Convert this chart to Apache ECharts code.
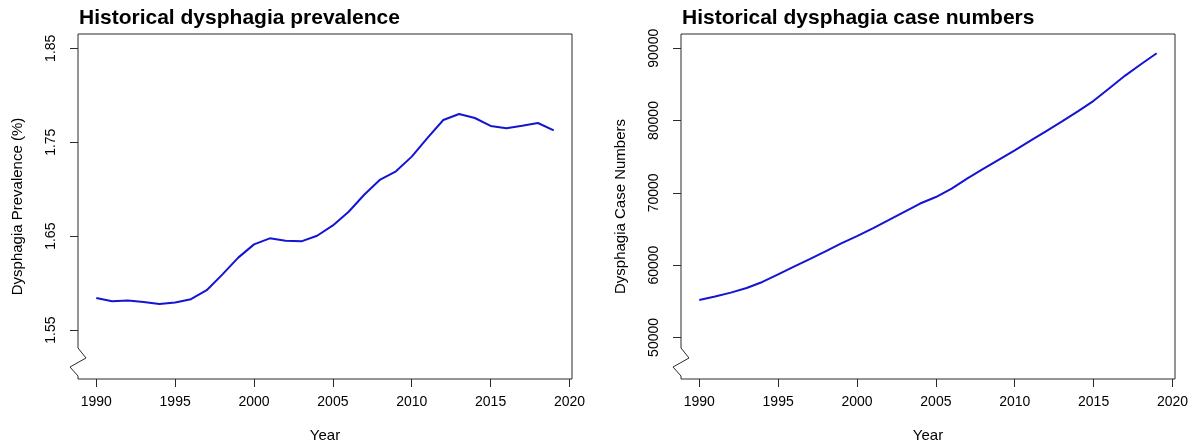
<!DOCTYPE html>
<html>
<head>
<meta charset="utf-8">
<script src="https://cdn.jsdelivr.net/npm/echarts@6/dist/echarts.min.js"></script>
<style>
  html, body { margin: 0; padding: 0; background: #ffffff; }
  #chart { width: 1197px; height: 448px; }
</style>
</head>
<body>
<div id="chart"></div>
<script>
// Yearly series, 1990-2019
const years = [1990, 1991, 1992, 1993, 1994, 1995, 1996, 1997, 1998, 1999,
               2000, 2001, 2002, 2003, 2004, 2005, 2006, 2007, 2008, 2009,
               2010, 2011, 2012, 2013, 2014, 2015, 2016, 2017, 2018, 2019];

// Prevalence of dysphagia (%)
const prevalence = [1.5843, 1.5808, 1.5815, 1.5800, 1.5779, 1.5794, 1.5829, 1.5925, 1.6094, 1.6272,
                    1.6413, 1.6477, 1.6452, 1.6445, 1.6505, 1.6615, 1.6760, 1.6944, 1.7103, 1.7191,
                    1.7347, 1.7546, 1.7737, 1.7800, 1.7758, 1.7673, 1.7648, 1.7676, 1.7705, 1.7626];

// Number of dysphagia cases
const caseNumbers = [55190, 55650, 56200, 56840, 57670, 58730, 59790, 60840, 61900, 63000,
                     64010, 65080, 66220, 67380, 68520, 69420, 70590, 72010, 73300, 74590,
                     75880, 77210, 78550, 79880, 81260, 82730, 84480, 86220, 87790, 89310];

// Tick positions
const yearTicks = [1990, 1995, 2000, 2005, 2010, 2015, 2020];
const prevalenceTicks = [1.55, 1.65, 1.75, 1.85];
const caseTicks = [50000, 60000, 70000, 80000, 90000];

const FONT = "'Liberation Sans', Arial, Helvetica, sans-serif";
const INK = '#000000';
const FRAME = '#2b2b2b';
const LINE_BLUE = '#1414d2';

// Panel geometry (shared by both panels)
const PANEL = { top: 34, height: 346, width: 494 };
const LEFTS = [78, 681];

function xAxisFor(gridIndex) {
  return {
    type: 'value', gridIndex: gridIndex,
    min: 1988.84, max: 2020.16,
    name: 'Year', nameLocation: 'middle', nameGap: 49,
    nameTextStyle: { fontFamily: FONT, fontSize: 15, color: INK },
    axisLine: { show: false },
    splitLine: { show: false },
    axisTick: { show: true, inside: false, length: 8, customValues: yearTicks,
                lineStyle: { color: FRAME, width: 1 } },
    axisLabel: { customValues: yearTicks, margin: 16, fontFamily: FONT, fontSize: 14,
                 color: INK, formatter: v => String(Math.round(v)) }
  };
}

function yAxisFor(gridIndex, name, min, max, ticks, fmt) {
  return {
    type: 'value', gridIndex: gridIndex, min: min, max: max,
    name: name, nameLocation: 'middle', nameRotate: 90, nameGap: 53,
    nameTextStyle: { fontFamily: FONT, fontSize: 15, color: INK },
    axisLine: { show: false },
    splitLine: { show: false },
    axisTick: { show: true, inside: false, length: 8, customValues: ticks,
                lineStyle: { color: FRAME, width: 1 } },
    axisLabel: { customValues: ticks, rotate: 90, align: 'center', verticalAlign: 'bottom',
                 margin: 20, fontFamily: FONT, fontSize: 14, color: INK, formatter: fmt }
  };
}

// Zigzag axis-break marker near the bottom of a panel's left edge
function axisBreak(left) {
  const yb = PANEL.top + PANEL.height;
  return [
    { type: 'rect', z: 100, silent: true,
      shape: { x: left - 2, y: yb - 32, width: 4, height: 28 },
      style: { fill: '#ffffff' } },
    { type: 'polyline', z: 101, silent: true,
      shape: { points: [[left, yb - 32], [left + 8, yb - 22], [left - 8, yb - 13], [left, yb - 4]] },
      style: { stroke: FRAME, lineWidth: 1, fill: null } }
  ];
}

const chart = echarts.init(document.getElementById('chart'), null, { renderer: 'canvas' });

chart.setOption({
  backgroundColor: '#ffffff',
  animation: false,
  title: [
    { text: 'Historical dysphagia prevalence', left: 79, top: 6, padding: 0,
      textStyle: { fontFamily: FONT, fontSize: 21, fontWeight: 'bold', color: INK, lineHeight: 24 } },
    { text: 'Historical dysphagia case numbers', left: 682, top: 6, padding: 0,
      textStyle: { fontFamily: FONT, fontSize: 21, fontWeight: 'bold', color: INK, lineHeight: 24 } }
  ],
  grid: LEFTS.map(l => ({
    left: l, top: PANEL.top, width: PANEL.width, height: PANEL.height,
    show: true, borderColor: FRAME, borderWidth: 1, backgroundColor: 'transparent'
  })),
  xAxis: [xAxisFor(0), xAxisFor(1)],
  yAxis: [
    yAxisFor(0, 'Dysphagia Prevalence (%)', 1.498, 1.8652, prevalenceTicks, v => v.toFixed(2)),
    yAxisFor(1, 'Dysphagia Case Numbers', 44248, 91972, caseTicks, v => String(Math.round(v)))
  ],
  series: [
    { type: 'line', xAxisIndex: 0, yAxisIndex: 0, showSymbol: false, smooth: false,
      lineStyle: { color: LINE_BLUE, width: 2 },
      data: years.map((y, i) => [y, prevalence[i]]) },
    { type: 'line', xAxisIndex: 1, yAxisIndex: 1, showSymbol: false, smooth: false,
      lineStyle: { color: LINE_BLUE, width: 2 },
      data: years.map((y, i) => [y, caseNumbers[i]]) }
  ],
  graphic: [].concat(axisBreak(LEFTS[0]), axisBreak(LEFTS[1]))
});
</script>
</body>
</html>
